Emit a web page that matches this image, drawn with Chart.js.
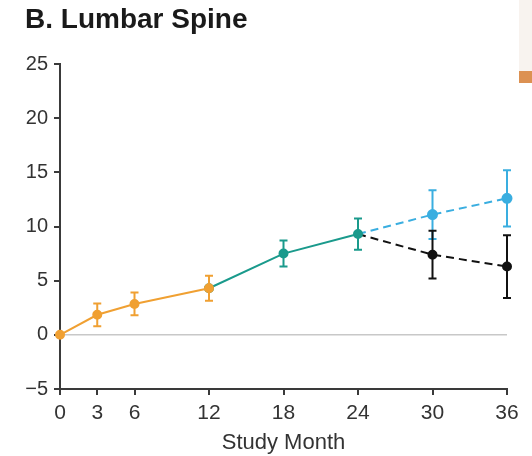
<!DOCTYPE html>
<html>
<head>
<meta charset="utf-8">
<script src="https://cdn.jsdelivr.net/npm/chart.js@4.4.1/dist/chart.umd.min.js"></script>
<style>
  html, body { margin: 0; padding: 0; background: #ffffff; }
  #wrap { position: relative; width: 532px; height: 456px; }
  canvas { display: block; }
  #deco1 { position: absolute; left: 519px; top: 0px; width: 13px; height: 71px; background: #f8f3ef; }
  #deco2 { position: absolute; left: 519px; top: 71px; width: 13px; height: 12px; background: #dc9152; }
</style>
</head>
<body>
<div id="wrap">
<canvas id="c" width="532" height="456"></canvas>
<div id="deco1"></div>
<div id="deco2"></div>
</div>
<script>
// ---- data ----
const titleText = "B. Lumbar Spine";
const xAxisTitle = "Study Month";
const monthTicks = [0, 3, 6, 12, 18, 24, 30, 36];
const yTicks = [-5, 0, 5, 10, 15, 20, 25];

const orangeMonths = [0, 3, 6, 12];
const orangeValues = [0, 1.85, 2.85, 4.3];
const orangeErrors = [0, 1.05, 1.05, 1.15];

const tealMonths = [12, 18, 24];
const tealValues = [4.3, 7.5, 9.3];
const tealErrors = [null, 1.2, 1.45];

const blueMonths = [24, 30, 36];
const blueValues = [9.3, 11.1, 12.6];
const blueErrors = [null, 2.25, 2.6];

const blackMonths = [24, 30, 36];
const blackValues = [9.3, 7.4, 6.3];
const blackErrors = [null, 2.2, 2.9];

const zeroMonths = [0, 36];
const zeroValues = [0, 0];

const toPts = (xs, ys) => xs.map((x, i) => ({ x: x, y: ys[i] }));

const errorBarPlugin = {
  id: 'errorBars',
  afterDatasetsDraw(chart) {
    const ctx = chart.ctx;
    const ys = chart.scales.y;
    chart.data.datasets.forEach((ds, di) => {
      if (!ds.errors) return;
      const meta = chart.getDatasetMeta(di);
      meta.data.forEach((pt, i) => {
        const e = ds.errors[i];
        if (!e) return;
        const v = ds.data[i].y;
        const top = ys.getPixelForValue(v + e);
        const bot = ys.getPixelForValue(v - e);
        const x = pt.x;
        ctx.save();
        ctx.strokeStyle = ds.borderColor;
        ctx.lineWidth = 2;
        ctx.setLineDash([]);
        ctx.beginPath();
        ctx.moveTo(x, top); ctx.lineTo(x, bot);
        ctx.moveTo(x - 4, top); ctx.lineTo(x + 4, top);
        ctx.moveTo(x - 4, bot); ctx.lineTo(x + 4, bot);
        ctx.stroke();
        ctx.restore();
      });
    });
  }
};

const axisColor = '#3a3a3a';
const textColor = '#333333';

new Chart(document.getElementById('c'), {
  type: 'line',
  data: {
    datasets: [
      { data: toPts(zeroMonths, zeroValues), borderColor: '#c8c8c8', borderWidth: 1.5, pointRadius: 0, order: 10 },
      { data: toPts(orangeMonths, orangeValues), errors: orangeErrors, borderColor: '#f0a032', backgroundColor: '#f0a032', borderWidth: 2, pointRadius: 4, clip: false },
      { data: toPts(tealMonths, tealValues), errors: tealErrors, borderColor: '#1a9a8c', backgroundColor: '#1a9a8c', borderWidth: 2, pointRadius: 4, clip: false },
      { data: toPts(blueMonths, blueValues), errors: blueErrors, borderColor: '#3aaee0', backgroundColor: '#3aaee0', borderWidth: 2, borderDash: [8, 5], pointRadius: [0, 4.5, 4.5], clip: false },
      { data: toPts(blackMonths, blackValues), errors: blackErrors, borderColor: '#111111', backgroundColor: '#111111', borderWidth: 2, borderDash: [8, 5], pointRadius: [0, 4, 4], clip: false }
    ]
  },
  plugins: [errorBarPlugin],
  options: {
    responsive: false,
    animation: false,
    layout: { padding: { left: 25, right: 25, top: 0, bottom: 0 } },
    plugins: {
      legend: { display: false },
      tooltip: { enabled: false },
      title: {
        display: true, text: titleText, align: 'start',
        color: '#1a1a1a',
        font: { family: 'Liberation Sans', size: 28, weight: 'bold' },
        padding: { top: 3, bottom: 27.4 }
      }
    },
    scales: {
      x: {
        type: 'linear', min: 0, max: 36,
        afterBuildTicks: (s) => { s.ticks = monthTicks.map(v => ({ value: v })); },
        afterFit: (s) => { s.height = 67; },
        grid: { drawOnChartArea: false, drawTicks: true, tickLength: 6, color: axisColor, lineWidth: 2 },
        border: { color: axisColor, width: 2 },
        ticks: { color: textColor, font: { family: 'Liberation Sans', size: 21 }, padding: 6, maxRotation: 0, autoSkip: false },
        title: { display: true, text: xAxisTitle, color: textColor, font: { family: 'Liberation Sans', size: 22 }, padding: { top: 2, bottom: 0 } }
      },
      y: {
        min: -5, max: 25,
        afterBuildTicks: (s) => { s.ticks = yTicks.map(v => ({ value: v })); },
        afterFit: (s) => { s.width = 35; },
        grid: { drawOnChartArea: false, drawTicks: true, tickLength: 6, color: axisColor, lineWidth: 2 },
        border: { color: axisColor, width: 2 },
        ticks: { color: textColor, font: { family: 'Liberation Sans', size: 20 }, padding: 6,
          callback: (v) => String(v).replace('-', '\u2212') }
      }
    }
  }
});
</script>
</body>
</html>
